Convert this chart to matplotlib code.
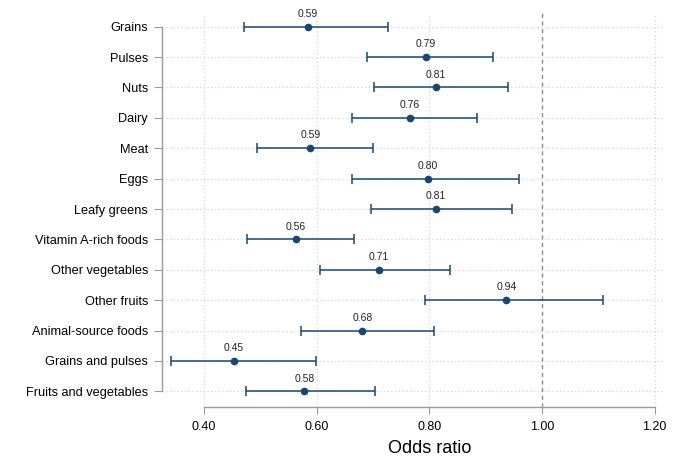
import matplotlib.pyplot as plt

# Data
groups = ['Grains', 'Pulses', 'Nuts', 'Dairy', 'Meat', 'Eggs', 'Leafy greens',
          'Vitamin A-rich foods', 'Other vegetables', 'Other fruits',
          'Animal-source foods', 'Grains and pulses', 'Fruits and vegetables']
odds = [0.585, 0.794, 0.812, 0.765, 0.589, 0.798, 0.812,
        0.563, 0.711, 0.937, 0.681, 0.453, 0.578]
ci_low = [0.471, 0.689, 0.702, 0.662, 0.494, 0.663, 0.697,
          0.476, 0.605, 0.792, 0.572, 0.342, 0.475]
ci_high = [0.727, 0.913, 0.939, 0.885, 0.700, 0.959, 0.946,
           0.666, 0.837, 1.109, 0.809, 0.599, 0.703]
odds_labels = ['0.59', '0.79', '0.81', '0.76', '0.59', '0.80', '0.81',
               '0.56', '0.71', '0.94', '0.68', '0.45', '0.58']
xticks = [0.4, 0.6, 0.8, 1.0, 1.2]

plt.rcParams['font.family'] = ['Liberation Sans', 'DejaVu Sans']

navy = '#1a476f'
grey = '#9a9a9a'

fig = plt.figure(figsize=(6.8, 4.66), dpi=100)
ax = fig.add_axes([0.238, 0.127, 0.737, 0.845])

ypos = list(range(len(groups)))
err = [[o - l for o, l in zip(odds, ci_low)], [h - o for o, h in zip(odds, ci_high)]]

# grid
for xt in xticks:
    if xt == 1.0:
        continue
    ax.axvline(xt, color='#d4d4d4', linestyle=(0, (1, 2)), linewidth=0.9, zorder=0)
for y in ypos:
    ax.axhline(y, color='#d4d4d4', linestyle=(0, (1, 2)), linewidth=0.9, zorder=0)
ax.axvline(1.0, color='#8a8a8a', linestyle=(0, (3, 2.5)), linewidth=1.0, zorder=1)

ax.errorbar(odds, ypos, xerr=err, fmt='o', color=navy, ecolor=navy,
            elinewidth=1.1, capsize=3.5, capthick=1.1, markersize=4.5, zorder=3)

for o, y, lab in zip(odds, ypos, odds_labels):
    ax.text(o, y - 0.42, lab, ha='center', va='center', fontsize=7.5, color='#222222')

ax.set_xlim(0.325, 1.215)
ax.set_ylim(12.51, -0.45)
ax.set_yticks(ypos)
ax.set_yticklabels(groups, fontsize=9.2)
ax.set_xticks(xticks)
ax.set_xticklabels([f'{t:.2f}' for t in xticks], fontsize=9)

for s in ['top', 'right']:
    ax.spines[s].set_visible(False)
ax.spines['left'].set_bounds(0, 12)
ax.spines['bottom'].set_bounds(0.4, 1.2)
for s in ['left', 'bottom']:
    ax.spines[s].set_color(grey)
    ax.spines[s].set_linewidth(1.0)
ax.tick_params(axis='y', length=6, color=grey, pad=4)
ax.tick_params(axis='x', length=5, color=grey, pad=5)

ax.set_xlabel('Odds ratio', fontsize=13)
ax.xaxis.set_label_coords(0.535, -0.085)

plt.savefig('out.png', dpi=100)
